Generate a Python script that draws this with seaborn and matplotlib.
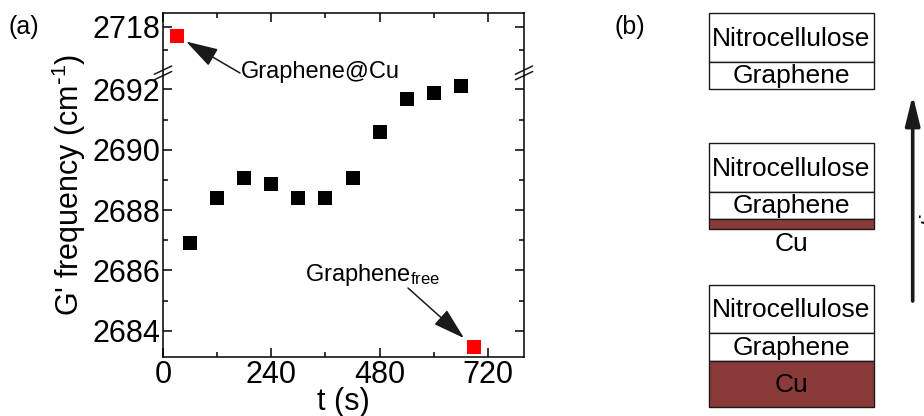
import numpy as np
import pandas as pd
import matplotlib
matplotlib.use("Agg")
import matplotlib.pyplot as plt
import seaborn as sns
from matplotlib.ticker import FixedLocator
from matplotlib.patches import Rectangle

# ---------------- data ----------------
t_cu = [30]
g_cu = [2713.0]
t_series = [60, 120, 180, 240, 300, 360, 420, 480, 540, 600, 660]
g_series = [2686.9, 2688.4, 2689.06, 2688.86, 2688.4, 2688.4, 2689.07,
            2690.6, 2691.67, 2691.89, 2692.1]
t_free = [690]
g_free = [2683.45]

x_major = [0, 240, 480, 720]
x_minor = [120, 360, 600]
y_major = [2684, 2686, 2688, 2690, 2692, 2718]
y_minor = [2685, 2687, 2689, 2691, 2705]

layer_names = ["Nitrocellulose", "Graphene"]

# ---------------- style ----------------
sns.set_theme(style="ticks")
plt.rcParams['font.family'] = ['Liberation Sans', 'DejaVu Sans']
plt.rcParams['mathtext.default'] = 'regular'
plt.rcParams['axes.linewidth'] = 1.1
for key in ['axes.edgecolor', 'axes.labelcolor', 'text.color',
            'xtick.color', 'ytick.color']:
    plt.rcParams[key] = 'black'

fig = plt.figure(figsize=(9.24, 4.16), dpi=100)
W, H = 924, 416
ax = fig.add_axes([163 / W, 1 - 357 / H, (524 - 163) / W, (357 - 13) / H])

# broken y scale
B = 2692.55
K = 0.0599


def fwd(y):
    y = np.asarray(y, float)
    return np.where(y <= B, y, B + (y - B) * K)


def inv(v):
    v = np.asarray(v, float)
    return np.where(v <= B, v, B + (v - B) / K)


ax.set_yscale('function', functions=(fwd, inv))
ymin, ymax = 2683.13, 2725.7

df = pd.DataFrame({"t": t_series, "g": g_series})
sns.scatterplot(data=df, x="t", y="g", marker="s", s=92, color="black",
                linewidth=0, ax=ax, zorder=3)
sns.scatterplot(x=t_cu + t_free, y=g_cu + g_free, marker="s", s=100,
                color="#ff0000", linewidth=0, ax=ax, zorder=3)

ax.set_xlim(0, 800)
ax.set_ylim(ymin, ymax)
ax.xaxis.set_major_locator(FixedLocator(x_major))
ax.xaxis.set_minor_locator(FixedLocator(x_minor))
ax.yaxis.set_major_locator(FixedLocator(y_major))
ax.yaxis.set_minor_locator(FixedLocator(y_minor))
ax.set_xticklabels([str(v) for v in x_major])
ax.set_yticklabels([str(v) for v in y_major])
ax.tick_params(which='both', direction='in', top=True, right=True, width=1.1,
               color='black', labelcolor='black')
ax.tick_params(which='major', length=6.5, labelsize=22, pad=2)
ax.tick_params(which='minor', length=3.5)
ax.set_xlabel("t (s)", fontsize=22, labelpad=-2)
ax.set_ylabel("G' frequency (cm$^{\\text{-}1}$)", fontsize=22, labelpad=3)

# break marks
yb = (float(fwd(B)) - ymin) / (float(fwd(ymax)) - ymin)
for x0 in (0, 1):
    for off in (-0.008, 0.008):
        ax.plot([x0 - 0.024, x0 + 0.024], [yb + off - 0.012, yb + off + 0.012],
                transform=ax.transAxes, color='k', lw=1.1, clip_on=False)

# annotations
ax.annotate('', xy=(t_cu[0], g_cu[0]), xytext=(240, H - 73),
            textcoords='figure pixels',
            arrowprops=dict(arrowstyle='-|>,head_length=1.0,head_width=0.3',
                            mutation_scale=20, lw=1.1, color='k',
                            shrinkA=0, shrinkB=8))
fig.text(241 / W, 1 - 72 / H, 'Graphene@Cu', ha='left', va='center', fontsize=17)

ax.annotate('', xy=(t_free[0], g_free[0]), xytext=(408, H - 288),
            textcoords='figure pixels',
            arrowprops=dict(arrowstyle='-|>,head_length=1.0,head_width=0.3',
                            mutation_scale=20, lw=1.1, color='k',
                            shrinkA=0, shrinkB=10))
fig.text(305 / W, 1 - 281 / H, 'Graphene$_{free}$', ha='left', va='baseline',
         fontsize=17)

fig.text(9 / W, 1 - 27 / H, '(a)', ha='left', va='center', fontsize=18)
fig.text(614 / W, 1 - 27 / H, '(b)', ha='left', va='center', fontsize=18)

# ---------------- panel (b) schematic ----------------
ax2 = fig.add_axes([600 / W, 0, 324 / W, 1])
ax2.set_xlim(600, 924)
ax2.set_ylim(H, 0)
ax2.axis('off')
ax2.patch.set_alpha(0)

cu_col = '#8b3a3a'
bx0, bx1 = 709, 874
stacks = [
    (13, [(layer_names[0], 49, 'white'), (layer_names[1], 27, 'white')]),
    (143, [(layer_names[0], 49, 'white'), (layer_names[1], 27, 'white'), ('', 10, cu_col)]),
    (285, [(layer_names[0], 48, 'white'), (layer_names[1], 28, 'white'), ('Cu', 46, cu_col)]),
]
for top, layers in stacks:
    y = top
    for name, h, col in layers:
        ax2.add_patch(Rectangle((bx0, y), bx1 - bx0, h, facecolor=col,
                                edgecolor='#1a1a1a', lw=1.0))
        if name:
            ax2.text((bx0 + bx1) / 2, y + h / 2 + 1, name, ha='center',
                     va='center', fontsize=19)
        y += h
ax2.text((bx0 + bx1) / 2, 244, 'Cu', ha='center', va='center', fontsize=19)

ax2.annotate('', xy=(912.7, 95), xytext=(912.7, 301),
             arrowprops=dict(arrowstyle='-|>,head_length=0.9,head_width=0.22',
                             mutation_scale=20, lw=2.6, color='k',
                             shrinkA=0, shrinkB=0))
fig.text(920 / W, 1 - 200 / H, 'time', rotation=90, ha='left', va='center',
         fontsize=19)

fig.savefig('out.png', dpi=100)
